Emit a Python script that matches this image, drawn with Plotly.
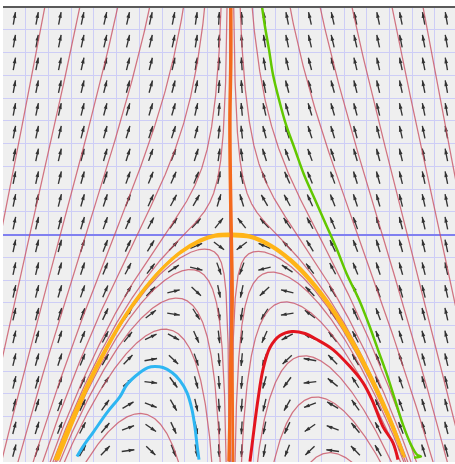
import numpy as np
import plotly.graph_objects as go

# ---------------- data ----------------
# system: x' = -x ,  y' = y + x^2   (direction field)
x_range = [-5.0, 4.94]
y_range = [-5.0, 5.0]
arrow_x = [-4.75 + 0.5 * i for i in range(20)]
arrow_y = [-4.75 + 0.5 * i for i in range(20)]

# streamline constants K for solutions  y = K/x - x^2/3
K_left_rising = [-43.0, -28.6, -17.4, -10.7, -5.5, -2.87, -1.0, -0.35]
K_left_arch = [0.12, 0.45, 1.1, 2.0, 5.2, 8.0]
K_right_falling = [46.5, 32.7, 19.7, 12.4, 7.3, 2.41, 1.06, 0.35]
K_right_arch = [-0.15, -0.5, -1.2, -2.9, -4.5, -7.0]

# hand-drawn curves (data units)
orange_x = [0.01, 0.01, -0.01, 0.0, 0.02, 0.04, 0.01, -0.01, -0.03]
orange_y = [5.01, 3.85, 2.53, 1.21, 0.0, -1.43, -2.75, -4.07, -4.99]
orange2_x = [0.02, 0.03, 0.05, 0.06]
orange2_y = [-1.0, -2.0, -3.5, -5.0]

yellow_x = [-3.857, -3.527, -3.197, -2.867, -2.428, -1.988, -1.548, -1.108, -0.668, -0.339,
            0.013, 0.431, 0.871, 1.311, 1.750, 2.190, 2.630, 3.070, 3.509, 3.795]
yellow_y = [-4.958, -4.147, -3.408, -2.740, -1.963, -1.317, -0.798, -0.409, -0.150, -0.037,
            -0.03, -0.062, -0.253, -0.572, -1.020, -1.598, -2.304, -3.140, -4.105, -4.837]
yellow2_x = [-3.80, -3.47, -3.15, -2.82, -2.39, -1.95, -1.52, -1.09, -0.66, -0.33,
             0.02, 0.44, 0.89, 1.34, 1.78, 2.23, 2.67, 3.10, 3.54, 3.83]
yellow2_y = [-4.96, -4.13, -3.38, -2.71, -1.93, -1.29, -0.77, -0.38, -0.12, -0.01,
             0.01, -0.03, -0.23, -0.56, -1.01, -1.60, -2.31, -3.13, -4.11, -4.90]

blue_x = [-3.373, -3.241, -3.021, -2.713, -2.427, -2.273, -1.988, -1.812, -1.658, -1.482,
          -1.284, -1.108, -0.954, -0.844, -0.778, -0.734, -0.690]
blue_y = [-4.881, -4.662, -4.354, -3.914, -3.562, -3.298, -3.034, -2.924, -2.902, -2.924,
          -3.034, -3.210, -3.474, -3.848, -4.244, -4.617, -4.947]

red_x = [0.431, 0.519, 0.607, 0.717, 0.871, 1.091, 1.354, 1.640, 1.904, 2.256, 2.630,
         2.916, 3.113, 3.355, 3.575, 3.685]
red_y = [-4.991, -4.288, -3.628, -2.968, -2.485, -2.221, -2.133, -2.177, -2.309, -2.529,
         -2.902, -3.254, -3.628, -4.222, -4.574, -4.947]

green_x = [0.695, 0.761, 0.849, 0.937, 1.069, 1.222, 1.420, 1.618, 1.860, 2.102, 2.344,
           2.564, 2.828, 3.047, 3.245, 3.443, 3.619, 3.795, 3.971, 4.103, 4.191, 4.037]
green_y = [5.013, 4.573, 4.068, 3.518, 2.968, 2.419, 1.869, 1.319, 0.770, 0.220, -0.330,
           -0.880, -1.429, -1.979, -2.529, -3.078, -3.628, -4.178, -4.617, -4.837, -4.881, -4.903]

# ---------------- figure ----------------
fig = go.Figure()

# direction field arrows
L = 0.28
sx, sy, hx, hy, ang = [], [], [], [], []
for cx in arrow_x:
    for cy in arrow_y:
        dx, dy = -cx, cy + cx * cx
        n = np.hypot(dx, dy)
        ux, uy = dx / n, dy / n
        x0, y0 = cx - ux * L / 2, cy - uy * L / 2
        x1, y1 = cx + ux * L / 2, cy + uy * L / 2
        sx += [x0, x1, None]
        sy += [y0, y1, None]
        hx.append(x1)
        hy.append(y1)
        ang.append(float(np.degrees(np.arctan2(ux, uy))))

fig.add_trace(go.Scatter(x=sx, y=sy, mode="lines",
                         line=dict(color="#333333", width=1.35), hoverinfo="skip"))
fig.add_trace(go.Scatter(x=hx, y=hy, mode="markers",
                         marker=dict(symbol="arrow", size=6, angle=ang, color="#333333",
                                     line=dict(width=0)), hoverinfo="skip"))


def solution(K, side):
    t = np.geomspace(0.004, 6.5, 700)
    xs = -t if side < 0 else t
    ys = K / xs - xs ** 2 / 3.0
    ys = np.where(np.abs(ys) > 5.6, np.nan, ys)
    return xs, ys


cx_all, cy_all = [], []
for K in K_left_rising + K_left_arch:
    xs, ys = solution(K, -1)
    cx_all += list(xs) + [None]
    cy_all += [None if np.isnan(v) else v for v in ys] + [None]
for K in K_right_falling + K_right_arch:
    xs, ys = solution(K, 1)
    cx_all += list(xs) + [None]
    cy_all += [None if np.isnan(v) else v for v in ys] + [None]

fig.add_trace(go.Scatter(x=cx_all, y=cy_all, mode="lines",
                         line=dict(color="rgba(200,80,98,0.78)", width=1.25), hoverinfo="skip"))

# hand-drawn curves
fig.add_trace(go.Scatter(x=yellow_x, y=yellow_y, mode="lines",
                         line=dict(color="#ffb417", width=3, shape="spline"), hoverinfo="skip"))
fig.add_trace(go.Scatter(x=yellow2_x, y=yellow2_y, mode="lines",
                         line=dict(color="#ffb417", width=3, shape="spline"), hoverinfo="skip"))
fig.add_trace(go.Scatter(x=orange_x, y=orange_y, mode="lines",
                         line=dict(color="#f46a1c", width=3.5, shape="spline"), hoverinfo="skip"))
fig.add_trace(go.Scatter(x=orange2_x, y=orange2_y, mode="lines",
                         line=dict(color="#f46a1c", width=2.5, shape="spline"), hoverinfo="skip"))
fig.add_trace(go.Scatter(x=blue_x, y=blue_y, mode="lines",
                         line=dict(color="#2eb6f2", width=3, shape="spline"), hoverinfo="skip"))
fig.add_trace(go.Scatter(x=red_x, y=red_y, mode="lines",
                         line=dict(color="#e3141e", width=3, shape="spline"), hoverinfo="skip"))
fig.add_trace(go.Scatter(x=green_x, y=green_y, mode="lines",
                         line=dict(color="#62c800", width=2.5, shape="spline"), hoverinfo="skip"))

fig.add_shape(type="line", xref="paper", yref="paper", x0=0, x1=1, y0=1, y1=1,
              line=dict(color="#5a5a5a", width=2))

axis_common = dict(showticklabels=False, ticks="", showline=False,
                   gridcolor="#cdcdf6", gridwidth=1, dtick=0.5, tick0=0,
                   zeroline=True, zerolinecolor="#8080f0", zerolinewidth=1.6)
fig.update_xaxes(range=x_range, **axis_common)
fig.update_yaxes(range=y_range, **axis_common)

fig.update_layout(width=455, height=464, showlegend=False,
                  margin=dict(l=3, r=0, t=7, b=2),
                  plot_bgcolor="#efefef", paper_bgcolor="#ffffff")

fig.write_html("out.html", config={"displayModeBar": False},
               post_script="document.body.style.margin='0';document.body.style.overflow='hidden';")
